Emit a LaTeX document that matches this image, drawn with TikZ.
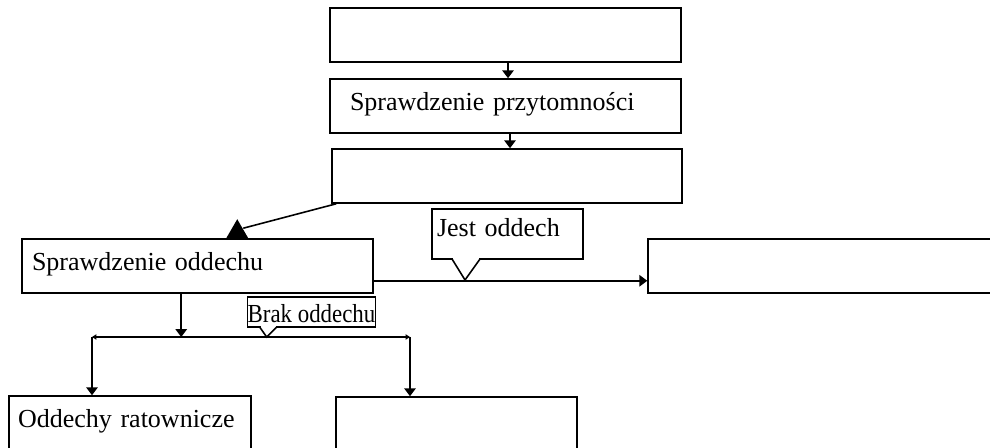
\documentclass[tikz,border=0pt]{standalone}
\usepackage{fontspec}
\setmainfont{Liberation Serif}
\usetikzlibrary{arrows.meta,calc}
\tikzset{
  box/.style={draw, line width=0.9pt, minimum height=1.08cm, inner ysep=0pt,
    align=left, text height=8.7pt, text depth=4pt},
  callbox/.style={draw, fill=white, line width=0.9pt, inner sep=0pt, outer sep=0pt},
  conn/.style={line width=0.9pt},
  arr/.style={conn, -{Triangle[length=4.5pt,width=6.5pt]}},
  tinyarr/.style={conn, {Triangle[length=2.5pt,width=3pt]}-{Triangle[length=2.5pt,width=3pt]}}
}
\begin{document}
\begin{tikzpicture}[x=0.02cm,y=-0.02cm,font=\fontsize{14.8pt}{17pt}\selectfont]
\useasboundingbox (0,0) rectangle (990,448);
\clip (0,0) rectangle (990,448);
% boxes
\node[box, minimum width=7.02cm] (b1) at (505.5,35) {};
\node[box, text width=6.22cm, inner xsep=0.4cm] (b2) at (505.5,106) {Sprawdzenie przytomności};
\node[box, minimum width=7cm] (b3) at (507,176) {};
\node[box, text width=6.62cm, inner xsep=0.2cm] (b4) at (197.5,266) {Sprawdzenie oddechu};
\node[box, minimum width=7.04cm] (b5) at (824,266) {};
\node[box, text width=4.48cm, inner xsep=0.18cm] (b6) at (130,423) {Oddechy ratownicze};
\node[box, minimum width=4.82cm] (b7) at (456.5,424) {};
% connectors
\draw[arr] ([xshift=0.05cm]b1.south) -- ([xshift=0.05cm]b2.north);
\draw[arr] ([xshift=0.09cm]b2.south) -- ([xshift=0.09cm]b2.south |- b3.north);
\coordinate (t4) at ($(b4.north west)+(216,0)$);
\draw[conn] ([xshift=0.1cm]b3.south west) -- ($(t4)+(6,-10)$);
\fill ($(t4)+(-11,0)$) -- ($(t4)+(11,0)$) -- ($(t4)+(0,-19)$) -- cycle;
\draw[arr] ([yshift=0.26cm]b4.south east) -- ([yshift=0.26cm]b5.south west);
\coordinate (hl) at (92,337);
\coordinate (hr) at (410,337);
\draw[arr] ([xshift=3.2cm]b4.south west) -- ([xshift=3.2cm]b4.south west |- hl);
\draw[tinyarr] (hl) -- (hr);
\draw[arr] (hl) -- (hl |- b6.north);
\draw[arr] (hr) -- (hr |- b7.north);
% callouts
\node[callbox, minimum width=3.02cm, minimum height=1cm, text width=2.82cm,
  align=left, text height=8pt, text depth=4.6pt] (jest) at (507.5,234) {Jest oddech};
\draw[white, line width=1.6pt] ($(jest.south west)+(21,0)$) -- ($(jest.south west)+(47,0)$);
\draw[conn] ($(jest.south west)+(20,0)$) -- ($(jest.south west)+(33,21)$) -- ($(jest.south west)+(48,0)$);
\node[callbox, minimum width=2.54cm, minimum height=0.6cm, text height=12pt, text depth=0.6pt]
  (brak) at (311.5,312) {\scalebox{0.88}[1]{Brak oddechu}};
\draw[white, line width=1.6pt] ($(brak.south west)+(13,0)$) -- ($(brak.south west)+(28,0)$);
\draw[conn] ($(brak.south west)+(12,0)$) -- ($(brak.south west)+(19,10)$) -- ($(brak.south west)+(29,0)$);
\end{tikzpicture}
\end{document}
